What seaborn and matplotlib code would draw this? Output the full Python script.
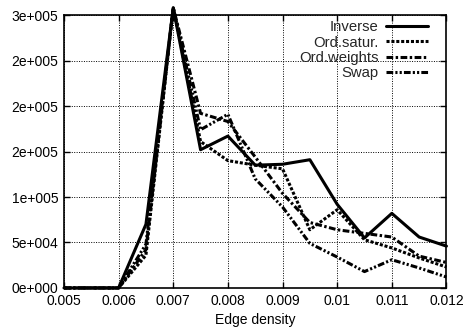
import matplotlib
matplotlib.use("Agg")
import matplotlib.pyplot as plt
import matplotlib.ticker as mticker
import seaborn as sns
import pandas as pd

edge_density = [0.005, 0.0055, 0.006, 0.0065, 0.007, 0.0075, 0.008, 0.0085,
                0.009, 0.0095, 0.010, 0.0105, 0.011, 0.0115, 0.012]
inverse = [0, 0, 0, 70000, 308000, 152000, 167000, 135000, 136000, 141000,
           92000, 55000, 82000, 56000, 46000]
ord_satur = [0, 0, 0, 36000, 308000, 161000, 140000, 135000, 131000, 64000,
             86000, 53000, 44000, 33000, 23000]
ord_weights = [0, 0, 0, 42000, 308000, 192000, 183000, 144000, 104000, 72000,
               64000, 60000, 56000, 35000, 28000]
swap = [0, 0, 0, 48000, 308000, 174000, 191000, 120000, 89000, 49000,
        34000, 18000, 31000, 22000, 12000]
series_names = ["Inverse", "Ord.satur.", "Ord.weights", "Swap"]
x_ticks = [0.005, 0.006, 0.007, 0.008, 0.009, 0.010, 0.011, 0.012]
y_ticks = [0, 50000, 100000, 150000, 200000, 250000, 300000]

rows = []
for name, vals in zip(series_names, [inverse, ord_satur, ord_weights, swap]):
    for xv, yv in zip(edge_density, vals):
        rows.append({"x": xv, "y": yv, "series": name})
df = pd.DataFrame(rows)

sns.set_theme(style="ticks")
plt.rcParams["font.family"] = ["Liberation Sans", "DejaVu Sans"]

fig = plt.figure(figsize=(4.67, 3.36), dpi=100)
ax = fig.add_axes([0.137, 0.143, 0.819, 0.812])

dashes = {"Inverse": "",
          "Ord.satur.": (1.0, 0.6),
          "Ord.weights": (2.2, 0.8, 0.8, 0.8),
          "Swap": (2.2, 0.7, 0.7, 0.7, 0.7, 0.7)}
palette = {n: "black" for n in series_names}
sns.lineplot(data=df, x="x", y="y", hue="series", style="series",
             dashes=dashes, palette=palette, hue_order=series_names,
             style_order=series_names, linewidth=2.2, ax=ax, legend=True)
for ln in ax.lines:
    ln.set_clip_on(False)

ax.set_xlim(0.005, 0.012)
ax.set_ylim(0, 300000)
ax.set_xticks(x_ticks)
ax.set_yticks(y_ticks)
ax.xaxis.set_major_formatter(mticker.FuncFormatter(lambda v, p: f"{v:.3f}".rstrip("0")))

def gfmt(v, p):
    m, e = f"{v:.0e}".split("e")
    return f"{m}e{int(e):+04d}"

ax.yaxis.set_major_formatter(mticker.FuncFormatter(gfmt))
ax.grid(True, color="black", linestyle=(0, (1, 1.5)), linewidth=0.7)
ax.tick_params(direction="in", top=True, right=True, length=4, width=1,
               labelsize=10, colors="black", pad=4)
for s in ax.spines.values():
    s.set_color("black")
    s.set_linewidth(1.2)
ax.set_xlabel("Edge density", fontsize=10, color="black")
ax.set_ylabel("")

h, l = ax.get_legend_handles_labels()
ax.legend(h, l, loc="upper right", bbox_to_anchor=(0.952, 0.982),
          frameon=False, markerfirst=False, borderaxespad=0, borderpad=0,
          fontsize=10.7, handlelength=2.8, labelspacing=0.1,
          handletextpad=0.55)

fig.savefig("out.png", dpi=100)
